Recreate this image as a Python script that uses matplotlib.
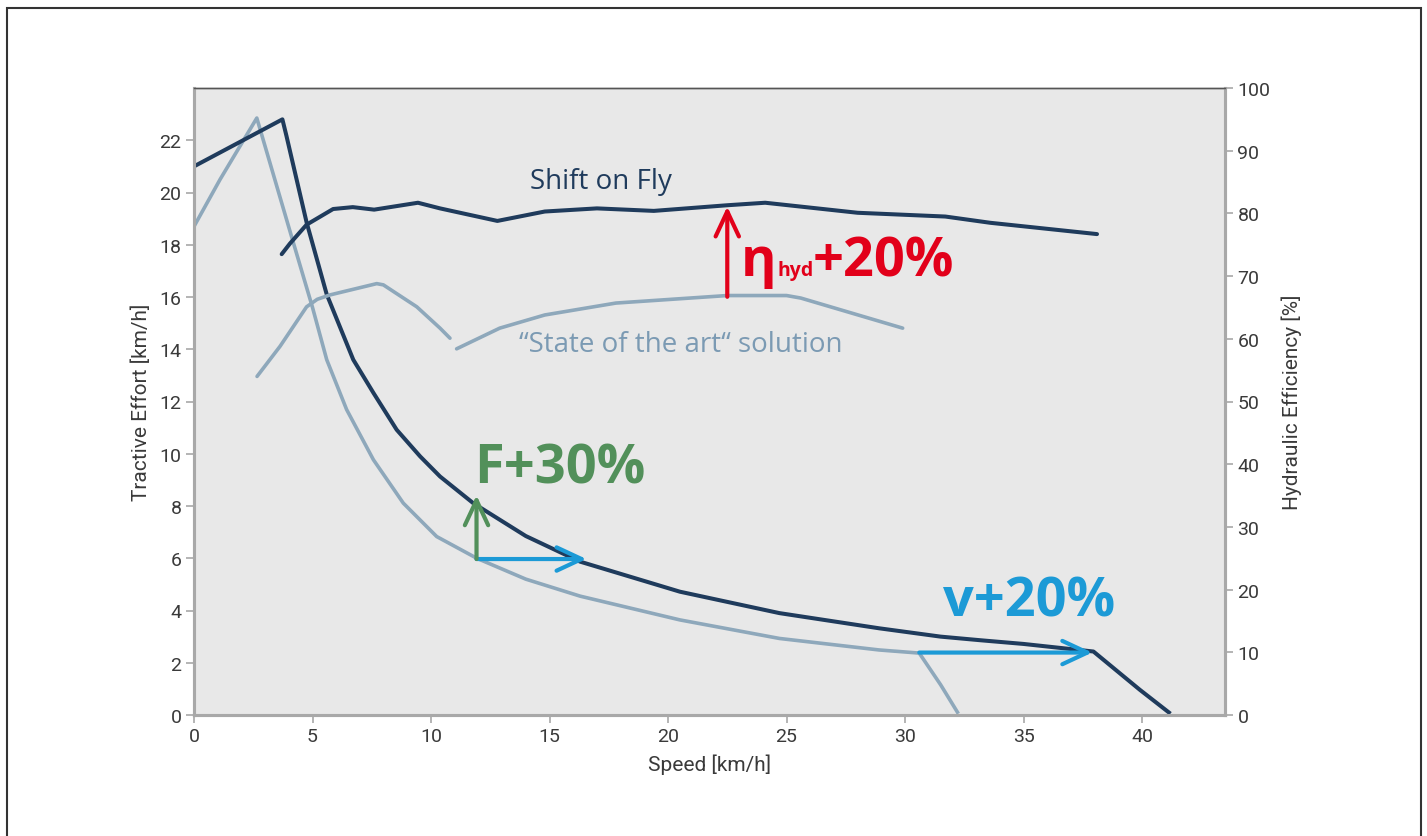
import matplotlib
matplotlib.use("Agg")
import matplotlib.pyplot as plt
from matplotlib.patches import Rectangle

plt.rcParams['font.family'] = ['Roboto', 'DejaVu Sans']

# tractive effort, left axis
sof_te_x = [0.0, 3.73, 3.9, 4.75, 5.6, 6.72, 7.57, 8.55, 9.54, 10.38, 11.78, 14.0,
            16.29, 20.5, 24.7, 28.9, 31.5, 33.2, 35.0, 37.95, 39.9, 41.2]
sof_te_y = [21.0, 22.8, 22.17, 18.86, 16.1, 13.6, 12.33, 10.92, 9.9, 9.13, 8.11, 6.85,
            5.87, 4.72, 3.90, 3.32, 3.0, 2.86, 2.72, 2.43, 0.97, 0.05]
sota_te_x = [0.0, 1.1, 2.65, 4.12, 5.0, 5.6, 6.44, 7.57, 8.83, 10.24, 11.93, 14.0,
             16.29, 20.5, 24.7, 28.9, 30.6, 31.5, 32.25]
sota_te_y = [18.7, 20.5, 22.85, 18.3, 15.6, 13.6, 11.69, 9.77, 8.11, 6.83, 6.0, 5.2,
             4.55, 3.64, 2.93, 2.49, 2.37, 1.16, 0.05]

# hydraulic efficiency, right axis
sof_eff_x = [3.7, 4.05, 4.75, 5.87, 6.7, 7.6, 9.45, 10.38, 12.8, 14.8, 17.0, 19.4,
             22.5, 24.1, 28.0, 31.7, 33.6, 38.1]
sof_eff_y = [73.5, 75.2, 78.2, 80.7, 81.0, 80.6, 81.7, 80.8, 78.8, 80.3, 80.8, 80.4,
             81.3, 81.7, 80.1, 79.5, 78.5, 76.7]
sota_eff1_x = [2.66, 3.63, 4.75, 5.2, 5.74, 7.71, 7.99, 9.4, 10.38, 10.8]
sota_eff1_y = [54.0, 58.8, 65.1, 66.3, 67.0, 68.8, 68.6, 65.1, 61.7, 60.1]
sota_eff2_x = [11.08, 12.9, 14.8, 17.8, 22.5, 25.0, 25.6, 29.9]
sota_eff2_y = [58.4, 61.7, 63.8, 65.7, 66.9, 66.9, 66.5, 61.7]

x_ticks = [0, 5, 10, 15, 20, 25, 30, 35, 40]
te_ticks = [0, 2, 4, 6, 8, 10, 12, 14, 16, 18, 20, 22]
eff_ticks = [0, 10, 20, 30, 40, 50, 60, 70, 80, 90, 100]

dark = '#1f3b5c'
light = '#8ea8bb'
red = '#e2001a'
green = '#52905a'
blue = '#1c9ad6'
axis_gray = '#a8a8a8'
text_gray = '#3a3a3a'

fig = plt.figure(figsize=(14.27, 8.37), dpi=100)
ax = fig.add_axes([194 / 1427, 1 - 716 / 837, (1225 - 194) / 1427, (716 - 89) / 837])
ax2 = ax.twinx()

ax.set_facecolor('#e8e8e8')
ax.plot(sota_te_x, sota_te_y, color=light, lw=2.6, solid_capstyle='butt', solid_joinstyle='round')
ax.plot(sof_te_x, sof_te_y, color=dark, lw=2.9, solid_capstyle='butt', solid_joinstyle='round')
ax2.plot(sota_eff1_x, sota_eff1_y, color=light, lw=2.6, solid_capstyle='round', solid_joinstyle='round')
ax2.plot(sota_eff2_x, sota_eff2_y, color=light, lw=2.6, solid_capstyle='round', solid_joinstyle='round')
ax2.plot(sof_eff_x, sof_eff_y, color=dark, lw=2.9, solid_capstyle='round', solid_joinstyle='round')

ax.set_xlim(0, 43.5)
ax.set_ylim(0, 24)
ax2.set_ylim(0, 100)
ax.set_xticks(x_ticks)
ax.set_yticks(te_ticks)
ax2.set_yticks(eff_ticks)

for a in (ax, ax2):
    a.tick_params(colors=axis_gray, labelcolor=text_gray, labelsize=14, length=6, width=1.2, pad=3)
    for side in ('left', 'right', 'bottom'):
        a.spines[side].set_color(axis_gray)
        a.spines[side].set_linewidth(2.2)
    a.spines['top'].set_color('#555555')
    a.spines['top'].set_linewidth(1.0)

ax.set_xlabel('Speed [km/h]', fontsize=15, color=text_gray, labelpad=6)
ax.set_ylabel('Tractive Effort [km/h]', fontsize=15, color=text_gray, labelpad=6)
ax2.set_ylabel('Hydraulic Efficiency [%]', fontsize=15, color=text_gray, labelpad=8)

arrow = dict(arrowstyle='->,head_length=0.9,head_width=0.42', lw=3, mutation_scale=20,
             shrinkA=0, shrinkB=0, capstyle='round', joinstyle='round')
big = dict(fontsize=39, fontweight='bold', family=['Open Sans', 'DejaVu Sans'], va='baseline')

# F / v arrows on the tractive effort axis
ax.annotate('', xy=(16.56, 5.97), xytext=(11.92, 5.97), arrowprops=dict(arrow, color=blue), zorder=5)
ax.annotate('', xy=(11.92, 8.41), xytext=(11.92, 5.97), arrowprops=dict(arrow, color=green), zorder=6)
ax.annotate('', xy=(37.9, 2.39), xytext=(30.6, 2.39), arrowprops=dict(arrow, color=blue), zorder=5)
ax.text(11.8, 8.9, 'F+30%', color=green, **big)
ax.text(31.6, 3.82, 'v+20%', color=blue, **big)

# efficiency arrow
ax2.annotate('', xy=(22.5, 81.1), xytext=(22.5, 66.7), arrowprops=dict(arrow, color=red), zorder=6)
ax2.text(23.05, 70.1, 'η', color=red, **big)
ax2.text(24.62, 70.1, 'hyd', color=red, fontsize=14, fontweight='bold',
         family=['Open Sans', 'DejaVu Sans'], va='baseline')
ax2.text(26.1, 70.1, '+20%', color=red, **big)

small = dict(fontsize=20, family=['Open Sans', 'DejaVu Sans'], va='baseline')
ax2.text(14.18, 84.1, 'Shift on Fly', color=dark, **small)
ax2.text(13.71, 58.0, '\u201cState of the art\u201c solution', color='#7b9ab3', **small)

fig.add_artist(Rectangle((7 / 1427, -0.1), (1421 - 7) / 1427, 1.1 - 9 / 837,
                         transform=fig.transFigure, fill=False, ec='#333333', lw=1.5))

fig.savefig('out.png', dpi=100)
